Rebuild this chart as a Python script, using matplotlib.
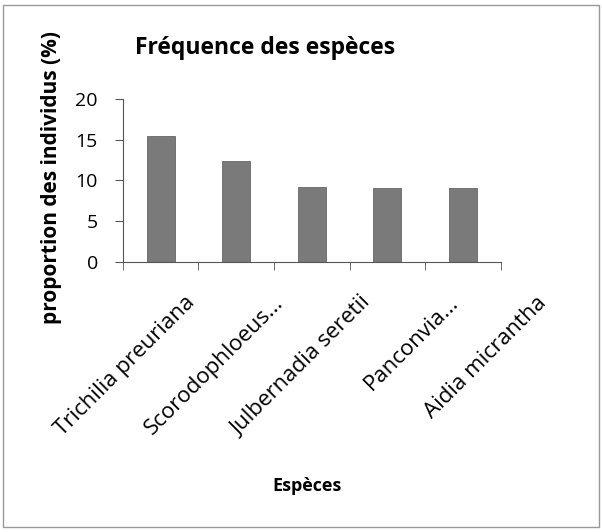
import numpy as np
import matplotlib.pyplot as plt
from matplotlib.patches import Rectangle
from matplotlib.transforms import ScaledTranslation

especes = ['Trichilia preuriana', 'Scorodophloeus...', 'Julbernadia seretii',
           'Panconvia...', 'Aidia micrantha']
proportion = [15.5, 12.35, 9.2, 9.1, 9.05]
yticks = [0, 5, 10, 15, 20]

plt.rcParams['font.family'] = ['Open Sans', 'DejaVu Sans']

fig = plt.figure(figsize=(6.02, 5.32), dpi=100)
ax = fig.add_axes([0.204, 0.5075, 0.628, 0.3065])

x = np.arange(len(especes))
ax.bar(x, proportion, width=0.37, color='#7a7a7a', edgecolor='#666666', linewidth=0.6)

ax.set_xlim(-0.5, len(especes) - 0.5)
ax.set_ylim(0, 20)
ax.set_yticks(yticks)
ax.set_yticklabels([str(v) for v in yticks], fontsize=14)
ax.set_xticks(x)
ax.set_xticklabels(especes, rotation=45, ha='right', va='top',
                   rotation_mode='anchor', fontsize=16)
ax.tick_params(axis='x', which='major', length=0, pad=0)
ax.set_xticks(np.arange(-0.5, len(especes)), minor=True)
ax.tick_params(axis='x', which='minor', length=6, color='#555555')
ax.tick_params(axis='y', length=6, color='#555555', pad=12)

# labels in the reference drift right a bit more for each category
for i, lbl in enumerate(ax.get_xticklabels()):
    dx = 24 + 12.3 * i
    lbl.set_transform(lbl.get_transform() +
                      ScaledTranslation(dx / 100, -30 / 100, fig.dpi_scale_trans))

for s in ['top', 'right']:
    ax.spines[s].set_visible(False)
for s in ['left', 'bottom']:
    ax.spines[s].set_color('#555555')
    ax.spines[s].set_linewidth(0.8)

fig.text(0.086, 0.667, 'proportion des individus (%)', fontsize=15, fontweight='bold',
         rotation=90, ha='center', va='center')
fig.text(0.44, 0.91, 'Fréquence des espèces', fontsize=16.5, fontweight='bold',
         ha='center', va='center')
fig.text(0.51, 0.087, 'Espèces', fontsize=13, fontweight='bold', ha='center', va='center')

fig.patches.append(Rectangle((0.005, 0.01), 0.99, 0.98, transform=fig.transFigure,
                             fill=False, edgecolor='#999999', linewidth=1))

fig.savefig('out.png', dpi=100)
